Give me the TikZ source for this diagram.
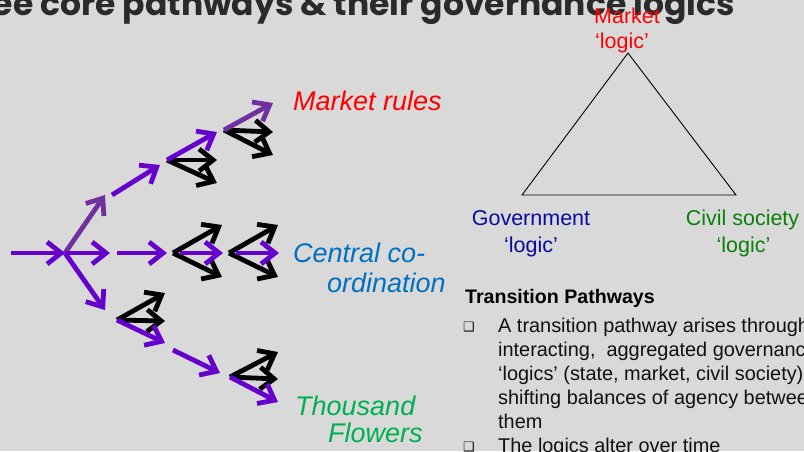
\documentclass[tikz,border=0pt]{standalone}
\usepackage{fontspec}
\setmainfont{Liberation Sans}
\newfontfamily\titlefont{Poppins}
\newfontfamily\symfont{DejaVu Sans}
\usetikzlibrary{arrows.meta}
\definecolor{bg}{HTML}{D9D9D9}
\definecolor{pv}{HTML}{6600CC}
\definecolor{pm}{HTML}{7030A0}
\definecolor{titlec}{HTML}{2A2A2A}
\definecolor{mred}{HTML}{FF0000}
\definecolor{cblue}{HTML}{0070C0}
\definecolor{tgreen}{HTML}{00B050}
\definecolor{gblue}{HTML}{0A0AA0}
\definecolor{cgreen}{HTML}{0A800A}
\definecolor{bodyc}{HTML}{111111}
\tikzset{
  arr/.style={line width=4.8pt, -{Straight Barb[length=14pt,width=22pt]}},
  pur/.style={arr, draw=pv},
  mut/.style={arr, draw=pm},
  blk/.style={arr, draw=black},
  lbl/.style={inner sep=0pt, font=\fontsize{27}{30}\selectfont\itshape},
  tri/.style={inner sep=0pt, font=\fontsize{21.5}{24}\selectfont},
  body/.style={inner sep=0pt, anchor=base west, text=bodyc, font=\fontsize{19.9}{24}\selectfont},
  bul/.style={inner sep=0pt, anchor=base west, text=bodyc, font=\symfont\fontsize{13}{14}\selectfont},
}
\begin{document}
\begin{tikzpicture}[x=1pt,y=-1pt]
\useasboundingbox (0,0) rectangle (804,451);
\clip (0,0) rectangle (804,451);
\fill[bg] (0,0) rectangle (804,451);

% title
\node[inner sep=0pt, anchor=base east, text=titlec, font=\titlefont\bfseries\fontsize{33}{37}\selectfont] (title) at (735,15) {Three core pathways \& their governance logics};

% triangle
\coordinate (ta) at (628,53);
\coordinate (tl) at (522,195);
\coordinate (tr) at (736,195);
\draw[line width=0.9pt, line join=miter] (ta) -- (tl) -- (tr) -- cycle;
\node[tri, anchor=base, text=mred] (mk1) at (627,23) {Market};
\node[tri, anchor=base, text=mred] (mk2) at (622,48) {‘logic’};
\node[tri, anchor=base, text=gblue] (gv1) at (531,225) {Government};
\node[tri, anchor=base, text=gblue] (gv2) at (531,252) {‘logic’};
\node[tri, anchor=base, text=cgreen] (cs1) at (742.5,225) {Civil society};
\node[tri, anchor=base, text=cgreen] (cs2) at (743.5,252) {‘logic’};

% transition pathways text
\node[inner sep=0pt, anchor=base west, font=\bfseries\fontsize{19.6}{24}\selectfont] (tp) at (465,303) {Transition Pathways};
\node[bul] (b1) at (463,331) {❑};
\node[body] (l1) at (498,332) {A transition pathway arises through};
\node[body] (l2) at (498,356) {interacting,\ \ aggregated governance};
\node[body] (l3) at (498,380) {‘logics’ (state, market, civil society), and};
\node[body] (l4) at (498,404) {shifting balances of agency between};
\node[body] (l5) at (498,428) {them};
\node[bul] (b2) at (463,451) {❑};
\node[body] (l6) at (498,452) {The logics alter over time};

% labels
\node[lbl, anchor=base west, text=mred] (mr) at (293,110) {Market rules};
\node[lbl, anchor=base west, text=cblue] (cc1) at (293,262) {Central co-};
\node[lbl, anchor=base west, text=cblue] (cc2) at (327,292) {ordination};
\node[lbl, anchor=base west, text=tgreen] (tf1) at (295,415) {Thousand};
\node[lbl, anchor=base west, text=tgreen] (tf2) at (328,442) {Flowers};

% coordinates
\coordinate (r0) at (11,253);
\coordinate (r1) at (65,253);
\coordinate (u1) at (105,195);
\coordinate (m1) at (110,253);
\coordinate (d1) at (105,310);
\coordinate (m2s) at (117,253);
\coordinate (m2e) at (167,253);
% middle groups
\coordinate (c1) at (173,253);
\coordinate (c1a) at (222,225);
\coordinate (c1b) at (222,277);
\coordinate (c1s) at (180,253);
\coordinate (c1e) at (223,253);
\coordinate (c2) at (229,253);
\coordinate (c2a) at (278,225);
\coordinate (c2b) at (278,277);
\coordinate (c2s) at (236,253);
\coordinate (c2e) at (279,253);
% upper path
\coordinate (us) at (112,195);
\coordinate (ue) at (160,165);
\coordinate (b1v) at (167,160);
\coordinate (b1a) at (217,160);
\coordinate (b1b) at (217,183);
\coordinate (b1p) at (217,132);
\coordinate (b2v) at (224,130);
\coordinate (b2a) at (273,132);
\coordinate (b2b) at (273,155);
\coordinate (b2p) at (273,103);
% lower path
\coordinate (l1v) at (117,320);
\coordinate (l1a) at (165,293);
\coordinate (l1b) at (165,321);
\coordinate (l1p) at (165,343);
\coordinate (ls) at (173,350);
\coordinate (le) at (220,373);
\coordinate (l2v) at (230,377);
\coordinate (l2a) at (278,352);
\coordinate (l2b) at (278,379);
\coordinate (l2p) at (278,402);

% black arrows first
\draw[blk] (c1) -- (c1a);
\draw[blk] (c1) -- (c1b);
\draw[blk] (c2) -- (c2a);
\draw[blk] (c2) -- (c2b);
\draw[blk] (b1v) -- (b1a);
\draw[blk] (b1v) -- (b1b);
\draw[blk] (b2v) -- (b2a);
\draw[blk] (b2v) -- (b2b);
\draw[blk] (l1v) -- (l1a);
\draw[blk] (l1v) -- (l1b);
\draw[blk] (l2v) -- (l2a);
\draw[blk] (l2v) -- (l2b);

% purple arrows
\draw[pur] (r0) -- (r1);
\draw[mut] (r1) -- (u1);
\draw[pur] (r1) -- (m1);
\draw[pur] (r1) -- (d1);
\draw[pur] (m2s) -- (m2e);
\draw[pur] (c1s) -- (c1e);
\draw[pur] (c2s) -- (c2e);
\draw[pur] (us) -- (ue);
\draw[pur] (b1v) -- (b1p);
\draw[mut] (b2v) -- (b2p);
\draw[pur] (l1v) -- (l1p);
\draw[pur] (ls) -- (le);
\draw[pur] (l2v) -- (l2p);
\end{tikzpicture}
\end{document}
